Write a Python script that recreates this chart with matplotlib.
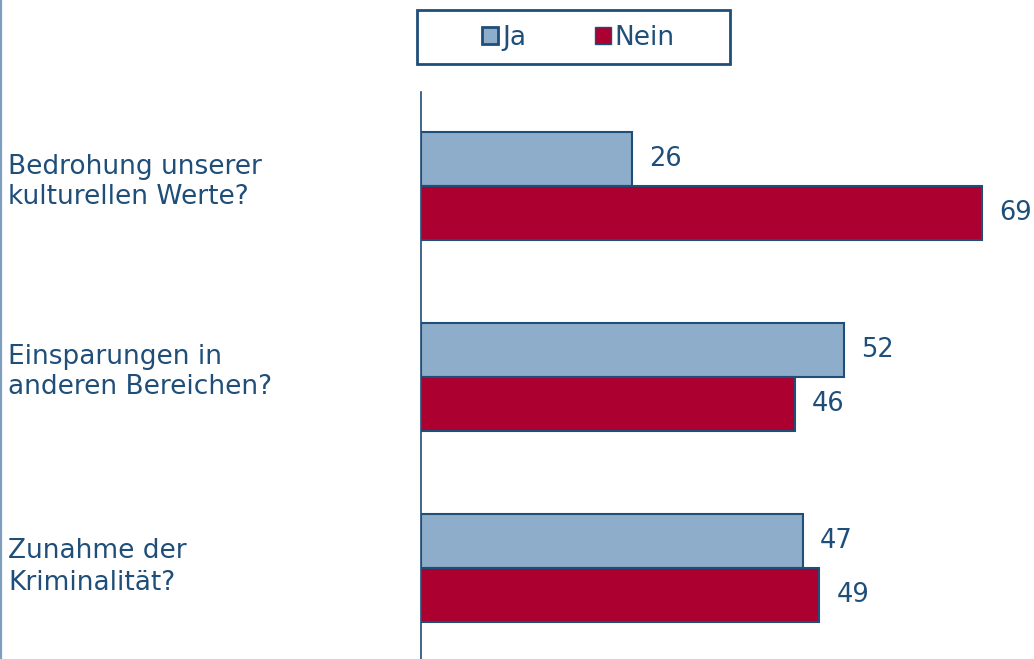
import matplotlib
matplotlib.use("Agg")
import matplotlib.pyplot as plt
from matplotlib.patches import Rectangle, Patch
from matplotlib.lines import Line2D
import numpy as np

categories = ["Bedrohung unserer\nkulturellen Werte?",
              "Einsparungen in\nanderen Bereichen?",
              "Zunahme der\nKriminalität?"]
ja = [26, 52, 47]
nein = [69, 46, 49]
series_names = ["Ja", "Nein"]

C_JA = "#8EADCA"
C_NEIN = "#AC0030"
EDGE = "#1F4E79"
TXT = "#1F4E79"

W, H = 1034, 659
fig = plt.figure(figsize=(W / 100, H / 100), dpi=100)
plt.rcParams['font.family'] = ['DejaVu Sans']

ax_left = 421 / W
ax_top = 92 / H
ax = fig.add_axes([ax_left, 0, 1 - ax_left, 1 - ax_top])

y = np.arange(len(categories))
h = 54 / 191
ax.barh(y - h / 2, ja, height=h, color=C_JA, edgecolor=EDGE, linewidth=1.5)
ax.barh(y + h / 2, nein, height=h, color=C_NEIN, edgecolor=EDGE, linewidth=1.5)

for i in range(len(categories)):
    ax.text(ja[i] + 2.1, y[i] - h / 2, str(ja[i]), va="center", ha="left",
            fontsize=18.5, color=TXT)
    ax.text(nein[i] + 2.1, y[i] + h / 2, str(nein[i]), va="center", ha="left",
            fontsize=18.5, color=TXT)

ax.set_xlim(0, 613 / 8.13)
ax.set_ylim((659 - 186) / 191, (92 - 186) / 191)
for s in ["top", "right", "bottom"]:
    ax.spines[s].set_visible(False)
ax.spines["left"].set_color(EDGE)
ax.spines["left"].set_linewidth(1.2)
ax.set_xticks([])
ax.set_yticks([])

# category labels
offsets = [-4, -5, -1]
for i, cat in enumerate(categories):
    yc = 186 + 191 * i + offsets[i]
    fig.text(8 / W, 1 - yc / H, cat, ha="left", va="center", fontsize=19,
             color=TXT, linespacing=1.25)

# left border line
fig.add_artist(Line2D([1.2 / W, 1.2 / W], [0, 1], color="#7F9FC0", linewidth=1.6))

# legend box
fig.add_artist(Rectangle((417 / W, 1 - 64 / H), (730 - 417) / W, (64 - 10) / H,
                         transform=fig.transFigure, facecolor="white",
                         edgecolor=EDGE, linewidth=2))
handles = [Patch(facecolor=C_JA, edgecolor=EDGE, linewidth=2),
           Patch(facecolor=C_NEIN, edgecolor=EDGE, linewidth=1)]
leg = fig.legend(handles, series_names, loc="center",
                 bbox_to_anchor=((417 + 730) / 2 / W + 5 / W, 1 - 38 / H),
                 ncol=2, frameon=False, fontsize=19, handlelength=0.6,
                 handleheight=0.6, handletextpad=0.15, columnspacing=2.6)
for t in leg.get_texts():
    t.set_color(TXT)

fig.savefig("out.png", dpi=100)
